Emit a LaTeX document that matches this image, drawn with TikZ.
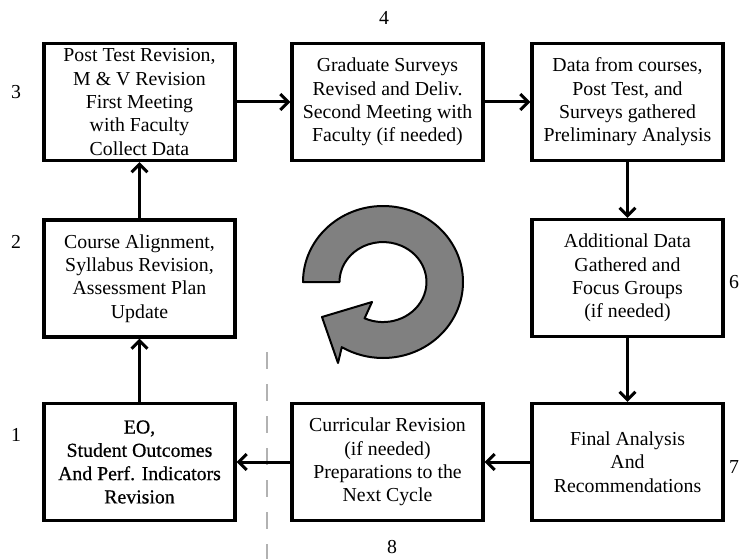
\documentclass[tikz,border=0pt]{standalone}
\usepackage{fontspec}
\setmainfont{Liberation Serif}
\newfontfamily\heavyish[FakeBold=0.6]{Liberation Serif}
\usetikzlibrary{arrows.meta}
\begin{document}
\begin{tikzpicture}[x=1pt,y=-1pt,
  stagebox/.style={draw,line width=3.2pt,minimum width=191pt,minimum height=117pt,align=center,font=\fontsize{19.8}{23.3}\selectfont,inner sep=0pt},
  flow/.style={line width=3pt,-{Straight Barb[length=8pt,width=16pt,line width=3pt]}},
  numlabel/.style={font=\fontsize{19.8}{22}\selectfont,inner sep=0pt}]
\useasboundingbox (0,0) rectangle (739,559);
\fill[white] (0,0) rectangle (739,559);
% dashed separator
\coordinate (dtop) at (267,352);
\coordinate (dbot) at (267,559);
\draw[gray!60,line width=1.5pt,dash pattern=on 17pt off 15pt] (dtop) -- (dbot);
% boxes
\node[stagebox] (s3) at (139.5,102) {Post Test Revision,\\M \& V Revision\\First Meeting\\with Faculty\\Collect Data};
\node[stagebox] (s4) at (387.5,102) {Graduate Surveys\\Revised and Deliv.\\Second Meeting with\\Faculty (if needed)};
\node[stagebox] (s5) at (627.5,102) {Data from courses,\\Post Test, and\\Surveys gathered\\Preliminary Analysis};
\node[stagebox] (s2) at (139.5,278.5) {Course Alignment,\\Syllabus Revision,\\Assessment Plan\\Update};
\node[stagebox] (s6) at (627.5,278) {Additional Data\\Gathered and\\Focus Groups\\(if needed)};
\node[stagebox,font=\fontsize{19.8}{23.3}\heavyish] (s1) at (139.5,462) {EO,\\Student Outcomes\\And Perf. Indicators\\Revision};
\node[stagebox] (s8) at (387.5,462) {Curricular Revision\\(if needed)\\Preparations to the\\Next Cycle};
\node[stagebox] (s7) at (627.5,462) {Final Analysis\\And\\Recommendations};
% connectors
\draw[flow] (s1) -- (s2);
\draw[flow] (s2) -- (s3);
\draw[flow] (s3) -- (s4);
\draw[flow] (s4) -- (s5);
\draw[flow] (s5) -- (s6);
\draw[flow] (s6) -- (s7);
\draw[flow] (s7) -- (s8);
\draw[flow] (s8) -- (s1);
% numbers
\node[numlabel] (n3) at (16,92) {3};
\node[numlabel] (n2) at (16,242) {2};
\node[numlabel] (n1) at (16,435) {1};
\node[numlabel] (n4) at (384,18) {4};
\node[numlabel,anchor=west] (n6) at (729,282) {6};
\node[numlabel,anchor=west] (n7) at (729,467) {7};
\node[numlabel] (n8) at (392,547) {8};
% circular arrow
\draw[fill=black!50,line width=2pt,line join=round]
  (303,282) arc[start angle=180,end angle=481,x radius=80,y radius=76]
  -- (338,363) -- (322,317) -- (372,302) -- (364.6,318.3)
  arc[start angle=475,end angle=180,x radius=43.5,y radius=40] -- cycle;
\end{tikzpicture}
\end{document}
